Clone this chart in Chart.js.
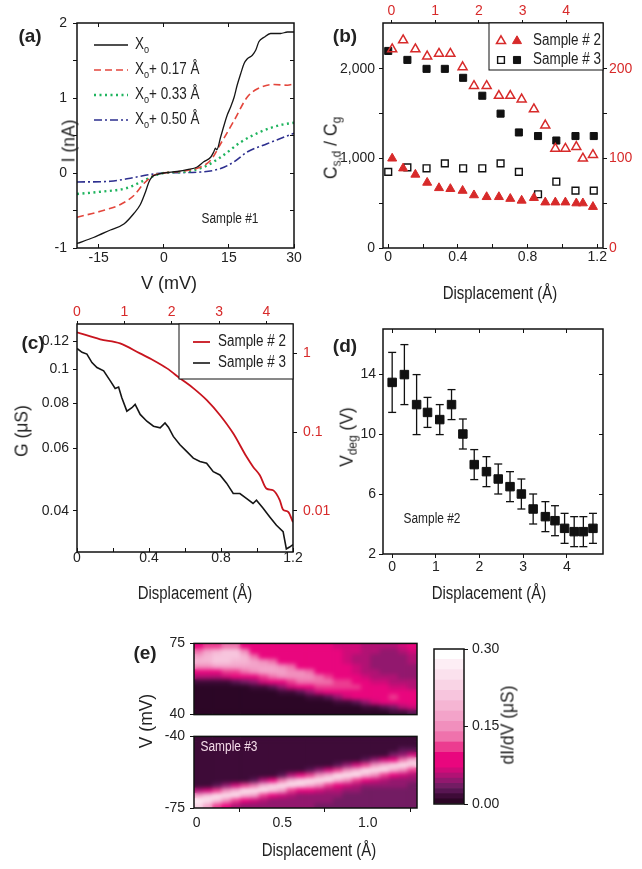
<!DOCTYPE html>
<html>
<head>
<meta charset="utf-8">
<script src="https://cdn.jsdelivr.net/npm/chart.js@4.4.0/dist/chart.umd.min.js"></script>
<style>
  body { margin: 0; background: #fff; }
  #fig { position: relative; width: 642px; height: 869px; overflow: hidden;
         font-family: 'Liberation Sans Narrow', 'Arial Narrow', 'Liberation Sans', Arial, sans-serif; color: #222; }
  canvas { position: absolute; }
  .t { position: absolute; white-space: nowrap; transform: translate(-50%, -50%) scaleX(0.85); font-size: 14px; line-height: 1; }
  .p { font-weight: bold; font-size: 19px; font-family: 'Liberation Sans', Arial, sans-serif; transform: translate(-50%, -50%); }
  .r { transform: translate(-50%, -50%) rotate(-90deg) scaleX(0.92); font-size: 19px; }
  .xt { font-size: 18px; transform: translate(-50%, -50%) scaleX(0.83); }
  .vx { font-size: 18px; transform: translate(-50%, -50%); }
  sub { font-size: 68%; vertical-align: -0.3em; }
</style>
</head>
<body>
<div id="fig">
  <canvas id="chA" width="320" height="310" style="left:0;top:0"></canvas>
  <canvas id="chB" width="322" height="310" style="left:320px;top:0"></canvas>
  <canvas id="chC" width="330" height="310" style="left:0;top:300px"></canvas>
  <canvas id="chD" width="322" height="310" style="left:320px;top:300px"></canvas>
  <canvas id="chE1" width="300" height="98" style="left:130px;top:630px"></canvas>
  <canvas id="chE2" width="300" height="146" style="left:130px;top:723px"></canvas>
  <canvas id="chBar" width="110" height="190" style="left:420px;top:630px"></canvas>

  <div class="t p" style="left:30px;top:35px">(a)</div>
  <div class="t p" style="left:345px;top:35px">(b)</div>
  <div class="t p" style="left:33px;top:342px">(c)</div>
  <div class="t p" style="left:345px;top:345px">(d)</div>
  <div class="t p" style="left:145px;top:652px">(e)</div>

  <div class="t r" style="left:68px;top:141px">I (nA)</div>
  <div class="t r" style="left:332px;top:148px">C<sub>s,d</sub> / C<sub>g</sub></div>
  <div class="t r" style="left:21px;top:431px">G (μS)</div>
  <div class="t r" style="left:348px;top:437px">V<sub>deg</sub> (V)</div>
  <div class="t r" style="left:145px;top:721px">V (mV)</div>
  <div class="t r" style="left:507px;top:725px">dI/dV (μS)</div>

  <div class="t vx" style="left:169px;top:283px">V (mV)</div>
  <div class="t xt" style="left:500px;top:293px">Displacement (Å)</div>
  <div class="t xt" style="left:195px;top:593px">Displacement (Å)</div>
  <div class="t xt" style="left:489px;top:593px">Displacement (Å)</div>
  <div class="t xt" style="left:319px;top:850px">Displacement (Å)</div>

  <div class="t" style="left:230px;top:218px">Sample #1</div>
  <div class="t" style="left:432px;top:518px">Sample #2</div>
  <div class="t" style="left:229px;top:746px;color:#f4dce9">Sample #3</div>
</div>
<script>
// (a) I-V curves
const a_v0 = [-20, -16.2, -12.3, -9.2, -6.9, -5.4, -4.2, -3.5, -2.7, -1.5, 0, 3.1, 5.4, 7.7, 9.2, 10.8, 11.5, 11.9, 12.2, 13.1, 13.9, 14.6, 15.4, 16.2, 16.9, 17.7, 18.5, 19.2, 20.4, 21.2, 21.9, 23.1, 24.6, 26.9, 28.5, 30];
const a_i0 = [-0.94, -0.86, -0.76, -0.68, -0.54, -0.42, -0.25, -0.13, -0.05, -0.02, 0, 0.02, 0.044, 0.08, 0.15, 0.21, 0.28, 0.33, 0.31, 0.48, 0.64, 0.77, 0.88, 1.01, 1.17, 1.32, 1.46, 1.52, 1.57, 1.64, 1.75, 1.81, 1.86, 1.86, 1.88, 1.88];
const a_v17 = [-20, -14.6, -10, -6.9, -4.6, -2.3, 0, 4.6, 8.5, 10.8, 13.1, 16.2, 19.2, 21.5, 25.4, 28.5, 30];
const a_i17 = [-0.59, -0.51, -0.42, -0.30, -0.14, -0.03, 0, 0.027, 0.08, 0.17, 0.39, 0.70, 1.01, 1.12, 1.18, 1.17, 1.19];
const a_v33 = [-20, -14.6, -8.5, -4.6, -1.5, 0, 5.4, 9.2, 13.1, 17.7, 22.3, 26.9, 30];
const a_i33 = [-0.28, -0.25, -0.20, -0.10, -0.02, 0, 0.02, 0.08, 0.21, 0.41, 0.55, 0.64, 0.67];
const a_v50 = [-20, -12.3, -6.9, -3.1, 0, 8.5, 13.1, 16.2, 19.2, 23.8, 30];
const a_i50 = [-0.12, -0.11, -0.06, -0.02, 0, 0.013, 0.06, 0.15, 0.28, 0.39, 0.53];
const a_names = ['X_o', 'X_o+ 0.17 Å', 'X_o+ 0.33 Å', 'X_o+ 0.50 Å'];
const a_xTicks = [-15, 0, 15, 30];
const a_yTicks = [-1, -0.5, 0, 0.5, 1, 1.5, 2];

// (b) capacitance ratio, sample 2 on top/right axes, sample 3 on bottom/left
const b_d2 = [0.02, 0.27, 0.55, 0.82, 1.09, 1.35, 1.63, 1.89, 2.18, 2.46, 2.72, 2.98, 3.26, 3.52, 3.75, 3.98, 4.23, 4.38, 4.61];
const b_open2 = [222, 232, 222, 214, 217, 217, 202, 181, 181, 170, 170, 166, 155, 137, 111, 111, 113, 100, 104];
const b_fill2 = [100, 89, 82, 73, 67, 66, 64, 59, 57, 57, 55, 53, 56, 51, 51, 51, 50, 50, 46];
const b_d3 = [0, 0.11, 0.22, 0.325, 0.43, 0.54, 0.645, 0.75, 0.86, 0.965, 1.075, 1.18];
const b_fill3 = [2200, 2100, 2000, 2000, 1900, 1700, 1500, 1290, 1250, 1200, 1250, 1250];
const b_open3 = [850, 900, 890, 945, 890, 890, 945, 850, 600, 740, 640, 640];
const b_names = ['Sample # 2', 'Sample # 3'];

// (c) conductance
const c_d2 = [0, 0.49, 0.91, 1.33, 1.61, 1.9, 2.18, 2.46, 2.74, 3.02, 3.3, 3.58, 3.72, 3.86, 4.0, 4.14, 4.28, 4.35, 4.46, 4.56];
const c_g2 = [1.85, 1.51, 1.34, 1.0, 0.82, 0.645, 0.48, 0.36, 0.255, 0.164, 0.096, 0.0486, 0.0362, 0.0284, 0.0192, 0.0183, 0.0137, 0.0104, 0.0097, 0.0072];
const c_d3 = [0, 0.028, 0.055, 0.083, 0.111, 0.148, 0.185, 0.212, 0.231, 0.249, 0.277, 0.305, 0.323, 0.351, 0.388, 0.425, 0.462, 0.489, 0.508, 0.535, 0.572, 0.609, 0.646, 0.683, 0.72, 0.757, 0.794, 0.831, 0.868, 0.905, 0.941, 0.978, 0.997, 1.034, 1.071, 1.108, 1.145, 1.163, 1.181, 1.2];
const c_g3 = [0.1144, 0.1115, 0.1103, 0.1044, 0.1011, 0.0989, 0.0927, 0.0883, 0.0891, 0.0831, 0.0762, 0.0779, 0.0796, 0.0746, 0.0714, 0.0691, 0.0684, 0.0706, 0.0687, 0.0647, 0.0613, 0.0587, 0.0562, 0.055, 0.0544, 0.0515, 0.0504, 0.0478, 0.0447, 0.0447, 0.0433, 0.0419, 0.0428, 0.0406, 0.0384, 0.0364, 0.0349, 0.0312, 0.0316, 0.0321];

// (d) degeneracy voltage with error bars
const d_disp = [0, 0.28, 0.56, 0.81, 1.09, 1.36, 1.62, 1.88, 2.16, 2.43, 2.7, 2.96, 3.23, 3.51, 3.73, 3.95, 4.17, 4.38, 4.6];
const d_vdeg = [13.44, 13.96, 11.96, 11.44, 10.96, 11.96, 10.0, 7.96, 7.49, 7.0, 6.49, 6.0, 5.0, 4.49, 4.22, 3.71, 3.49, 3.49, 3.71];
const d_err = [2, 2, 2, 1, 1, 1, 1, 1, 1, 1, 1, 1, 1, 1, 1, 1, 1, 1, 1];

// (e) dI/dV maps, values in 0.01 uS
const mapX = [0.011, 0.065, 0.120, 0.174, 0.228, 0.283, 0.337, 0.391, 0.446, 0.500, 0.554, 0.609, 0.663, 0.717, 0.772, 0.826, 0.880, 0.935, 0.989, 1.043, 1.098, 1.152, 1.206, 1.261];
const mapVTop = [75, 72.5, 70, 67.5, 65, 62.5, 60, 57.5, 55, 52.5, 50, 47.5, 45, 42.5, 40];
const mapVBot = [-40, -42.5, -45, -47.5, -50, -52.5, -55, -57.5, -60, -62.5, -65, -67.5, -70, -72.5, -75];
const mapTop = [
  [9,10,11,13,12,9, 8,8,8,8,8,8, 7,7,7,6,6,6, 5,5,5,5,6,7],
  [12,16,19,21,20,14, 9,8,8,8,8,8, 8,7,7,7,6,6, 5,5,4,4,5,6],
  [17,19,21,21,20,18, 12,9,8,8,8,8, 8,8,7,7,6,5, 5,4,4,4,4,5],
  [18,19,20,20,19,18, 17,15,12,9,9,8, 8,8,7,7,6,5, 5,4,4,4,4,5],
  [14,15,16,17,17,17, 17,17,16,15,12,9, 9,8,8,7,7,6, 5,4,4,4,4,4],
  [9,9,9,10,11,13, 15,16,16,16,15,14, 12,9,8,8,7,6, 5,5,4,4,4,4],
  [5,5,5,6,8,8, 9,10,12,14,15,15, 14,13,11,9,8,7, 6,5,5,5,4,4],
  [1,1,1,1,2,3, 4,6,8,9,10,12, 13,13,12,11,10,8, 7,6,6,5,5,5],
  [0,0,0,0,0,0, 1,1,2,4,6,8, 9,10,10,11,11,11, 9,7,7,6,6,5],
  [0,0,0,0,0,0, 0,0,0,1,1,2, 4,6,8,9,9,9, 9,9,8,8,7,7],
  [0,0,0,0,0,0, 0,0,0,0,0,0, 1,1,2,4,6,8, 9,9,9,11,9,8],
  [0,0,0,0,0,0, 0,0,0,0,0,0, 0,0,0,1,1,2, 4,6,8,8,9,9],
  [0,0,0,0,0,0, 0,0,0,0,0,0, 0,0,0,0,0,0, 1,1,2,3,5,6],
  [0,0,0,0,0,0, 0,0,0,0,0,0, 0,0,0,0,0,0, 0,0,0,1,1,2]
];
const mapBot = [
  [1,1,1,1,1,1, 1,1,1,1,1,1, 1,1,1,1,1,1, 1,1,1,1,1,1],
  [1,1,1,1,1,1, 1,1,1,1,1,1, 1,1,1,1,1,1, 1,1,1,1,1,1],
  [1,1,1,1,1,1, 1,1,1,1,1,1, 1,1,1,1,1,1, 1,1,1,1,2,2],
  [1,1,1,1,1,1, 1,1,1,1,1,1, 1,1,1,1,1,1, 1,1,1,3,4,6],
  [1,1,1,1,1,1, 1,1,1,1,1,1, 1,1,1,1,1,1, 2,4,6,9,12,18],
  [1,1,1,1,1,1, 1,1,1,1,1,1, 1,1,1,2,4,6, 10,14,18,23,24,23],
  [1,1,1,1,1,1, 1,1,1,1,1,1, 2,4,6,10,15,19, 24,25,24,19,15,10],
  [1,1,1,1,1,1, 1,1,1,2,5,7, 10,15,19,24,25,24, 19,15,11,8,6,5],
  [1,1,1,1,1,1, 2,5,8,12,18,22, 25,25,24,19,15,10, 7,6,5,4,4,4],
  [1,1,2,4,6,10, 13,18,23,25,25,22, 18,14,10,7,6,5, 4,4,4,4,4,3],
  [5,6,10,15,19,24, 25,25,21,16,11,9, 7,6,5,5,4,4, 3,3,3,3,3,3],
  [17,20,24,25,25,19, 16,11,9,6,5,4, 4,4,4,4,3,3, 3,3,3,3,3,3],
  [26,25,20,15,11,7, 6,5,4,4,4,4, 4,4,4,3,3,3, 3,3,3,3,3,3],
  [22,17,10,7,5,4, 4,4,4,4,4,4, 4,3,3,3,3,3, 3,3,3,3,3,3]
];
const cbEdges = [0, 0.01, 0.02, 0.03, 0.04, 0.05, 0.06, 0.07, 0.10, 0.12, 0.14, 0.16, 0.18, 0.20, 0.22, 0.24, 0.26, 0.28, 0.30];
const cbColors = ['#2c0626', '#3e0b38', '#581552', '#731c63', '#92186e', '#b11274', '#cf0b79', '#e9067e', '#ec3c90',
  '#ef72ac', '#f18fbd', '#f3a3c9', '#f5b5d3', '#f7c5dd', '#f9d4e5', '#fbe1ed', '#fdeef5', '#ffffff'];

const FONT = "'Liberation Sans Narrow', 'Arial Narrow', 'Liberation Sans', Arial, sans-serif";
const RED = '#d72a2a';

Chart.defaults.font.family = FONT;
Chart.defaults.font.size = 14;
Chart.defaults.color = '#222';
Chart.defaults.animation = false;
Chart.defaults.responsive = false;
Chart.defaults.plugins.legend.display = false;
Chart.defaults.plugins.tooltip.enabled = false;

const pts = (xs, ys) => xs.map((x, i) => ({ x, y: ys[i] }));

// fixed-size axis so every plot area lands where it should
function ax(pos, size, o) {
  o = o || {};
  const s = {
    type: o.type || 'linear',
    position: pos,
    min: o.min, max: o.max,
    offset: o.offset || false,
    afterFit: sc => { if (pos === 'top' || pos === 'bottom') sc.height = size; else sc.width = size; },
    border: { display: false },
    grid: { drawOnChartArea: false, drawTicks: !!o.ticks, tickLength: o.tl || 4, color: '#111', lineWidth: 1 },
    ticks: { display: !!o.fmt, padding: o.pad || 0, color: o.color || '#222', autoSkip: false, maxRotation: 0,
             callback: o.fmt, font: { size: 14 } }
  };
  if (o.ticks) s.afterBuildTicks = sc => { sc.ticks = o.ticks.map(v => ({ value: v })); };
  return s;
}

const frame = {
  id: 'frame',
  afterDraw(chart) {
    const { ctx, chartArea: a } = chart;
    ctx.save();
    ctx.strokeStyle = '#111';
    ctx.lineWidth = 1.5;
    ctx.strokeRect(a.left, a.top, a.right - a.left, a.bottom - a.top);
    ctx.restore();
  }
};

// soften the map cells a little, inside the plot area only
const smooth = {
  id: 'smooth',
  afterDatasetsDraw(chart) {
    const { ctx, canvas, chartArea: a } = chart;
    const w = a.right - a.left, h = a.bottom - a.top;
    ctx.save();
    ctx.beginPath();
    ctx.rect(a.left, a.top, w, h);
    ctx.clip();
    ctx.filter = 'blur(2.2px)';
    ctx.drawImage(canvas, a.left, a.top, w, h, a.left, a.top, w, h);
    ctx.restore();
  }
};

// text with _x subscripts, squeezed to look like the narrow original font
function richText(ctx, str, x, y, size) {
  ctx.save();
  ctx.translate(x, y);
  ctx.scale(0.84, 1);
  let cx = 0;
  str.split(/(_\w)/).forEach(part => {
    if (!part) return;
    const sub = part[0] === '_';
    const t = sub ? part.slice(1) : part;
    ctx.font = (sub ? size * 0.68 : size) + 'px ' + FONT;
    ctx.fillText(t, cx, sub ? size * 0.3 : 0);
    cx += ctx.measureText(t).width;
  });
  ctx.restore();
}

// legend drawn inside the plot, using the dataset styles
const keyBox = {
  id: 'keyBox',
  afterDraw(chart, args, o) {
    if (!o.rows) return;
    const ctx = chart.ctx;
    ctx.save();
    if (o.box) {
      const [x, y, w, h] = o.box;
      ctx.fillStyle = '#fff';
      ctx.fillRect(x, y, w, h);
      ctx.strokeStyle = '#111';
      ctx.lineWidth = 1;
      ctx.strokeRect(x, y, w, h);
    }
    o.rows.forEach(r => {
      r.sets.forEach((di, k) => {
        const ds = chart.data.datasets[di];
        if (o.lines) {
          ctx.strokeStyle = ds.borderColor;
          ctx.lineWidth = ds.borderWidth;
          ctx.setLineDash(ds.borderDash || []);
          ctx.beginPath();
          ctx.moveTo(o.lines[0], r.y);
          ctx.lineTo(o.lines[1], r.y);
          ctx.stroke();
          ctx.setLineDash([]);
        } else {
          ctx.fillStyle = ds.pointBackgroundColor;
          ctx.strokeStyle = ds.pointBorderColor;
          ctx.lineWidth = ds.pointBorderWidth;
          Chart.helpers.drawPoint(ctx, { pointStyle: ds.pointStyle, radius: ds.pointRadius,
            borderWidth: ds.pointBorderWidth, rotation: 0 }, o.marks[k], r.y);
        }
      });
      ctx.fillStyle = '#222';
      ctx.textBaseline = 'middle';
      ctx.textAlign = 'left';
      richText(ctx, r.text, o.textX, r.y, o.size);
    });
    ctx.restore();
  }
};

const oneDec = v => (Math.round(v * 10) % 4 === 0) ? (v === 0 ? '0' : v.toFixed(1)) : '';

// (a)
new Chart(document.getElementById('chA'), {
  type: 'line',
  data: { datasets: [
    { data: pts(a_v0, a_i0), borderColor: '#151515', borderWidth: 1.3 },
    { data: pts(a_v17, a_i17), borderColor: '#e3463c', borderWidth: 1.6, borderDash: [7, 4] },
    { data: pts(a_v33, a_i33), borderColor: '#1fb45e', borderWidth: 2.4, borderDash: [2, 3.5] },
    { data: pts(a_v50, a_i50), borderColor: '#2d2f8f', borderWidth: 1.6, borderDash: [8, 3, 2, 3] }
  ] },
  options: {
    elements: { point: { radius: 0 }, line: { cubicInterpolationMode: 'monotone' } },
    scales: {
      x: ax('bottom', 62, { min: -20, max: 30, ticks: a_xTicks, tl: -4, pad: 6, fmt: v => String(v) }),
      x2: ax('top', 23, { min: -20, max: 30, ticks: [-15, 0, 15], tl: -4 }),
      y: ax('left', 77, { min: -1, max: 2, ticks: a_yTicks, tl: 4, pad: 6, fmt: v => Number.isInteger(v) ? String(v) : '' }),
      y2: ax('right', 26, { min: -1, max: 2, ticks: [-0.5, 0, 0.5, 1, 1.5], tl: -4 })
    },
    plugins: { keyBox: { lines: [94, 128], textX: 135, size: 16,
      rows: a_names.map((t, i) => ({ text: t, y: 45 + i * 25, sets: [i] })) } }
  },
  plugins: [frame, keyBox]
});

// (b)
new Chart(document.getElementById('chB'), {
  type: 'scatter',
  data: { datasets: [
    { data: pts(b_d2, b_open2), xAxisID: 'x2', yAxisID: 'y2', pointStyle: 'triangle', pointRadius: 5.2,
      pointBorderWidth: 1.5, pointBorderColor: RED, pointBackgroundColor: 'rgba(0,0,0,0)' },
    { data: pts(b_d2, b_fill2), xAxisID: 'x2', yAxisID: 'y2', pointStyle: 'triangle', pointRadius: 5.2,
      pointBorderWidth: 1, pointBorderColor: RED, pointBackgroundColor: RED },
    { data: pts(b_d3, b_open3), pointStyle: 'rect', pointRadius: 4.8, pointBorderWidth: 1.4,
      pointBorderColor: '#111', pointBackgroundColor: 'rgba(0,0,0,0)' },
    { data: pts(b_d3, b_fill3), pointStyle: 'rect', pointRadius: 5, pointBorderWidth: 1,
      pointBorderColor: '#111', pointBackgroundColor: '#111' }
  ] },
  options: {
    scales: {
      x: ax('bottom', 62, { min: -0.03, max: 1.233, ticks: [0, 0.2, 0.4, 0.6, 0.8, 1.0, 1.2], tl: -4, pad: 5, fmt: oneDec }),
      x2: ax('top', 23, { min: -0.19, max: 4.84, ticks: [0, 1, 2, 3, 4], tl: 3, pad: 0, color: RED, fmt: v => String(v) }),
      y: ax('left', 63, { min: 0, max: 2512, ticks: [0, 500, 1000, 1500, 2000], tl: 4, pad: 4,
        fmt: v => v % 1000 === 0 ? v.toLocaleString('en-US') : '' }),
      y2: ax('right', 39, { min: 0, max: 251.2, ticks: [0, 50, 100, 150, 200], tl: 4, pad: 2, color: RED,
        fmt: v => v % 100 === 0 ? String(v) : '' })
    },
    plugins: { keyBox: { box: [169, 23, 114, 47], marks: [181, 197], textX: 213, size: 16,
      rows: [{ text: b_names[0], y: 41, sets: [0, 1] }, { text: b_names[1], y: 60, sets: [2, 3] }] } }
  },
  plugins: [frame, keyBox]
});

// (c)
new Chart(document.getElementById('chC'), {
  type: 'line',
  data: { datasets: [
    { data: pts(c_d2, c_g2), xAxisID: 'x2', yAxisID: 'y2', borderColor: '#c8141e', borderWidth: 1.8,
      cubicInterpolationMode: 'monotone' },
    { data: pts(c_d3, c_g3), borderColor: '#151515', borderWidth: 1.6 }
  ] },
  options: {
    elements: { point: { radius: 0 } },
    scales: {
      x: ax('bottom', 58, { min: 0, max: 1.2, ticks: [0, 0.2, 0.4, 0.6, 0.8, 1.0, 1.2], tl: -4, pad: 2, fmt: oneDec }),
      x2: ax('top', 24, { min: 0, max: 4.56, ticks: [0, 1, 2, 3, 4], tl: 3, pad: 0, color: RED, fmt: v => String(v) }),
      y: ax('left', 77, { type: 'logarithmic', min: 0.0306, max: 0.134, ticks: [0.04, 0.06, 0.08, 0.1, 0.12],
        tl: 4, pad: 4, fmt: v => String(v) }),
      y2: ax('right', 37, { type: 'logarithmic', min: 0.00301, max: 2.36, ticks: [0.01, 0.1, 1],
        tl: 4, pad: 6, color: RED, fmt: v => String(v) })
    },
    plugins: { keyBox: { box: [179, 24, 114, 55], lines: [193, 210], textX: 218, size: 16,
      rows: [{ text: b_names[0], y: 42, sets: [0] }, { text: b_names[1], y: 63, sets: [1] }] } }
  },
  plugins: [frame, keyBox]
});

// (d)
const d_bars = [];
d_disp.forEach((x, i) => {
  d_bars.push({ x, y: d_vdeg[i] + d_err[i] }, { x, y: d_vdeg[i] - d_err[i] }, { x, y: null });
});
new Chart(document.getElementById('chD'), {
  type: 'scatter',
  data: { datasets: [
    { data: d_bars, showLine: true, spanGaps: false, borderColor: '#111', borderWidth: 1.3,
      pointStyle: 'line', pointRadius: 4, pointBorderWidth: 1.3, pointBorderColor: '#111' },
    { data: pts(d_disp, d_vdeg), pointStyle: 'rect', pointRadius: 6, pointBorderWidth: 1,
      pointBorderColor: '#111', pointBackgroundColor: '#111' }
  ] },
  options: {
    scales: {
      x: ax('bottom', 56, { min: -0.21, max: 4.83, ticks: [0, 1, 2, 3, 4], tl: 4, pad: 1, fmt: v => String(v) }),
      x2: ax('top', 29, { min: -0.21, max: 4.83, ticks: [0, 1, 2, 3, 4], tl: -4 }),
      y: ax('left', 63, { min: 2, max: 17, ticks: [2, 6, 10, 14], tl: 4, pad: 3, fmt: v => String(v) }),
      y2: ax('right', 39, { min: 2, max: 17, ticks: [6, 10, 14], tl: -4 })
    }
  },
  plugins: [frame]
});

// (e) maps
function heatColor(v) {
  const u = v / 100;
  for (let i = 0; i < cbColors.length; i++) if (u < cbEdges[i + 1]) return cbColors[i];
  return cbColors[cbColors.length - 1];
}
function heatChart(id, rows, edges, yTicks, sizes, xTicks) {
  const lo = Math.min(...edges), hi = Math.max(...edges);
  return new Chart(document.getElementById(id), {
    type: 'bar',
    data: { datasets: rows.map((row, r) => ({
      data: mapX.map(x => ({ x, y: [edges[r + 1], edges[r]] })),
      backgroundColor: row.map(heatColor),
      grouped: false, barPercentage: 1, categoryPercentage: 1, borderWidth: 0
    })) },
    options: {
      scales: {
        x: ax('bottom', sizes[0], xTicks ? { min: -0.016, max: 1.288, ticks: xTicks, tl: 4, pad: 3,
          fmt: v => v === 0 ? '0' : v.toFixed(1) } : { min: -0.016, max: 1.288 }),
        x2: ax('top', sizes[1], { min: -0.016, max: 1.288 }),
        y: ax('left', 64, { min: lo, max: hi, ticks: yTicks, tl: 4, pad: 5, fmt: v => String(v) }),
        y2: ax('right', 13, { min: lo, max: hi })
      }
    },
    plugins: [smooth, frame]
  });
}
heatChart('chE1', mapTop, mapVTop, [40, 75], [10, 13], null);
heatChart('chE2', mapBot, mapVBot, [-75, -40], [61, 10], [0, 0.5, 1.0]);

// colour bar
new Chart(document.getElementById('chBar'), {
  type: 'bar',
  data: { labels: ['dI/dV'], datasets: cbColors.map((c, i) => ({
    data: [[cbEdges[i], cbEdges[i + 1]]], yAxisID: 'y2', backgroundColor: c,
    grouped: false, barPercentage: 1, categoryPercentage: 1, borderWidth: 0
  })) },
  options: {
    scales: {
      x: Object.assign(ax('bottom', 16, {}), { type: 'category', offset: true }),
      x2: ax('top', 19, { min: 0, max: 1 }),
      y: ax('left', 14, { min: 0, max: 0.3 }),
      y2: ax('right', 66, { min: 0, max: 0.3, ticks: [0, 0.15, 0.3], tl: 4, pad: 4, fmt: v => v.toFixed(2) })
    }
  },
  plugins: [frame]
});
</script>
</body>
</html>
